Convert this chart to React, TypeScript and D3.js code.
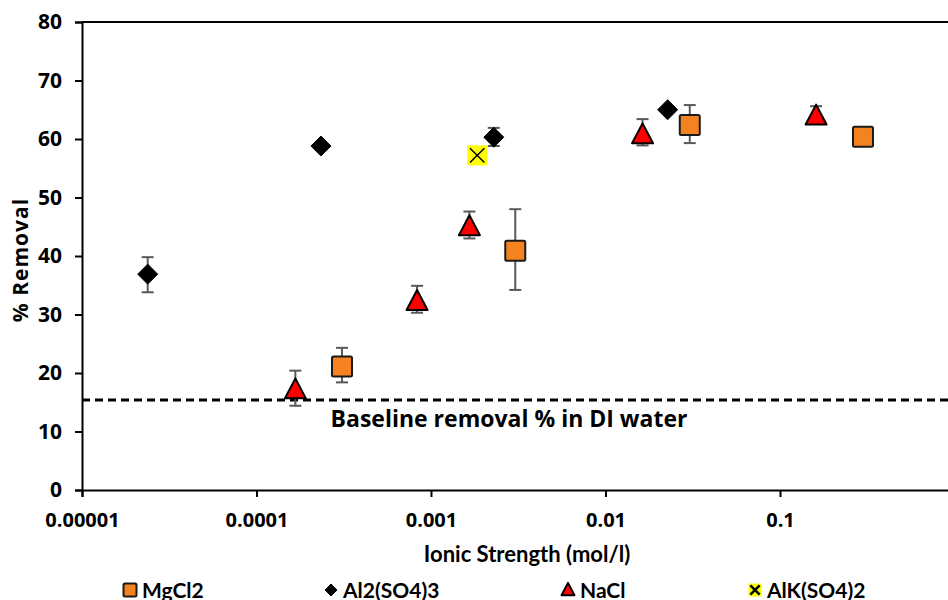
import { useEffect, useRef } from 'react';
import * as d3 from 'd3';

// ionic strength (mol/l), % removal, error (low/high)
const mgcl2X = [0.000309, 0.00304, 0.0304, 0.299];
const mgcl2Y = [21.1, 40.9, 62.4, 60.4];
const mgcl2Lo = [18.4, 34.2, 59.3, 60.4];
const mgcl2Hi = [24.3, 48.0, 65.8, 60.4];

const al2X = [0.0000238, 0.000234, 0.00229, 0.0227];
const al2Y = [36.9, 58.8, 60.3, 65.0];
const al2Lo = [33.8, 58.2, 58.8, 65.0];
const al2Hi = [39.8, 59.4, 61.9, 65.0];

const naclX = [0.000167, 0.000832, 0.00166, 0.0163, 0.161];
const naclY = [17.1, 32.2, 45.0, 60.7, 63.9];
const naclLo = [14.4, 30.3, 43.0, 58.9, 62.6];
const naclHi = [20.4, 34.9, 47.6, 63.4, 65.6];

const alkX = [0.00184];
const alkY = [57.2];

const baseline = 15.4;

const xTicks = [0.00001, 0.0001, 0.001, 0.01, 0.1, 1];
const xTickLabels = ['0.00001', '0.0001', '0.001', '0.01', '0.1', '1'];
const yTicks = [0, 10, 20, 30, 40, 50, 60, 70, 80];
const legendNames = ['MgCl2', 'Al2(SO4)3', 'NaCl', 'AlK(SO4)2'];

const App = () => {
  const chartRef = useRef<SVGSVGElement | null>(null);

  useEffect(() => {
    if (!chartRef.current) return;
    const svg = d3.select(chartRef.current);
    svg.selectAll('*').remove();

    const left = 82, top = 22, bottom = 490, right = 954.5;
    const xScale = d3.scaleLog().domain([1e-5, 1]).range([left, right]);
    const yScale = d3.scaleLinear().domain([0, 80]).range([bottom, top]);

    const tickFont = "'Open Sans', 'DejaVu Sans', sans-serif";
    const labelFont = "Lato, 'Open Sans', sans-serif";

    // top frame line
    svg.append('line')
      .attr('x1', left).attr('x2', 948)
      .attr('y1', top).attr('y2', top)
      .attr('stroke', '#000').attr('stroke-width', 2);

    // Y axis
    svg.append('g')
      .attr('transform', `translate(${left},0)`)
      .call(d3.axisLeft(yScale).tickValues(yTicks).tickSize(7).tickPadding(13).tickFormat(d3.format('d')))
      .call(g => g.select('.domain').attr('stroke', '#000').attr('stroke-width', 2))
      .call(g => g.selectAll('.tick line').attr('stroke', '#000').attr('stroke-width', 2))
      .call(g => g.selectAll('text')
        .style('font-family', tickFont)
        .style('font-size', '21px')
        .style('font-weight', 'bold')
        .style('fill', '#000'));

    // X axis
    svg.append('g')
      .attr('transform', `translate(0,${bottom})`)
      .call(d3.axisBottom(xScale).tickValues(xTicks).tickSize(7).tickPadding(16)
        .tickFormat((d, i) => xTickLabels[i]))
      .call(g => g.select('.domain').attr('stroke', '#000').attr('stroke-width', 2))
      .call(g => g.selectAll('.tick line').attr('stroke', '#000').attr('stroke-width', 2))
      .call(g => g.selectAll('text')
        .style('font-family', tickFont)
        .style('font-size', '20px')
        .style('font-weight', 'bold')
        .style('fill', '#000'));

    // baseline dashed line
    svg.append('line')
      .attr('x1', left).attr('x2', 948)
      .attr('y1', yScale(baseline)).attr('y2', yScale(baseline))
      .attr('stroke', '#000').attr('stroke-width', 3)
      .attr('stroke-dasharray', '8,5');

    svg.append('text')
      .attr('x', 509).attr('y', 427)
      .attr('text-anchor', 'middle')
      .style('font-family', tickFont)
      .style('font-size', '23px')
      .style('font-weight', 'bold')
      .text('Baseline removal % in DI water');

    // axis titles
    svg.append('text')
      .attr('x', 527).attr('y', 562)
      .attr('text-anchor', 'middle')
      .style('font-family', labelFont)
      .style('font-size', '22px')
      .style('font-weight', 'bold')
      .text('Ionic Strength (mol/l)');

    svg.append('text')
      .attr('transform', `translate(28,260) rotate(-90)`)
      .attr('text-anchor', 'middle')
      .style('font-family', tickFont)
      .style('font-size', '21px')
      .style('font-weight', 'bold')
      .style('letter-spacing', '1px')
      .text('% Removal');

    // error bars
    const errBars = (xs: number[], lo: number[], hi: number[]) => {
      xs.forEach((x, i) => {
        if (hi[i] - lo[i] < 0.01) return;
        const cx = xScale(x);
        const g = svg.append('g').attr('stroke', '#595959').attr('stroke-width', 2);
        g.append('line').attr('x1', cx).attr('x2', cx).attr('y1', yScale(lo[i])).attr('y2', yScale(hi[i]));
        g.append('line').attr('x1', cx - 6).attr('x2', cx + 6).attr('y1', yScale(lo[i])).attr('y2', yScale(lo[i]));
        g.append('line').attr('x1', cx - 6).attr('x2', cx + 6).attr('y1', yScale(hi[i])).attr('y2', yScale(hi[i]));
      });
    };
    errBars(mgcl2X, mgcl2Lo, mgcl2Hi);
    errBars(al2X, al2Lo, al2Hi);
    errBars(naclX, naclLo, naclHi);

    // marker drawers
    const square = (g: any, size: number) => g.append('rect')
      .attr('x', -size / 2).attr('y', -size / 2).attr('width', size).attr('height', size)
      .attr('rx', 1.5)
      .attr('fill', '#F58220').attr('stroke', '#1a1a1a').attr('stroke-width', 2);
    const diamond = (g: any, size: number) => g.append('path')
      .attr('d', `M0,${-size / 2}L${size / 2},0L0,${size / 2}L${-size / 2},0Z`)
      .attr('fill', '#000').attr('stroke', '#000').attr('stroke-width', 1);
    const triangle = (g: any, size: number) => g.append('path')
      .attr('d', `M0,${-size * 0.55}L${size / 2},${size * 0.4}L${-size / 2},${size * 0.4}Z`)
      .attr('fill', '#FF0000').attr('stroke', '#000').attr('stroke-width', 2).attr('stroke-linejoin', 'round');
    const cross = (g: any, size: number) => {
      g.append('rect')
        .attr('x', -size / 2).attr('y', -size / 2).attr('width', size).attr('height', size)
        .attr('fill', '#FFFF00');
      const h = size * 0.36;
      g.append('path')
        .attr('d', `M${-h},${-h}L${h},${h}M${-h},${h}L${h},${-h}`)
        .attr('stroke', '#000').attr('stroke-width', size < 16 ? 2.5 : 1.5);
    };

    const points = (xs: number[], ys: number[], draw: (g: any, s: number) => void, size: number) => {
      xs.forEach((x, i) => {
        const g = svg.append('g').attr('transform', `translate(${xScale(x)},${yScale(ys[i])})`);
        draw(g, size);
      });
    };
    points(al2X, al2Y, diamond, 20);
    points(alkX, alkY, cross, 20);
    points(naclX, naclY, triangle, 21);
    points(mgcl2X, mgcl2Y, square, 20);

    // legend
    const legendX = [130, 331, 568, 755];
    const drawers = [square, diamond, triangle, cross];
    const legendSizes = [13, 12, 13, 13];
    legendNames.forEach((name, i) => {
      const g = svg.append('g').attr('transform', `translate(${legendX[i]},590)`);
      drawers[i](g, legendSizes[i]);
      g.append('text')
        .attr('x', 12).attr('y', 7.5)
        .style('font-family', labelFont)
        .style('font-size', '21px')
        .style('font-weight', 'bold')
        .text(name);
    });
  }, []);

  return (
    <svg
      ref={chartRef}
      width={948}
      height={600}
      style={{ position: 'absolute', left: 0, top: 0, background: '#fff' }}
    />
  );
};

export default App;
